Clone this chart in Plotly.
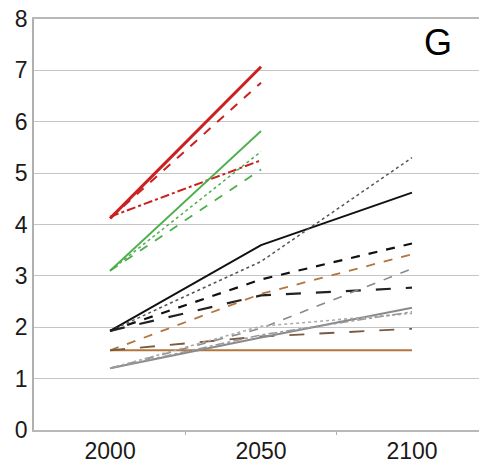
import plotly.graph_objects as go

years = [2000, 2050, 2100]
tick_labels = ["2000", "2050", "2100"]

red_solid = [4.12, 7.07, None]
red_dash = [4.12, 6.76, None]
red_dashdot = [4.15, 5.25, None]
green_solid = [3.10, 5.82, None]
green_dot = [3.10, 5.42, None]
green_dash = [3.10, 5.07, None]
black_solid = [1.93, 3.60, 4.62]
black_dot = [1.93, 3.28, 5.30]
black_dash = [1.93, 2.93, 3.63]
black_longdash = [1.93, 2.62, 2.77]
brown_solid = [1.55, 1.55, 1.55]
brown_dash = [1.55, 2.65, 3.42]
brown_longdash = [1.55, 1.82, 1.97]
gray_solid = [1.20, 1.80, 2.38]
gray_dash = [1.20, 1.98, 3.14]
gray_dot = [1.20, 2.02, 2.27]
gray_dashdot = [1.20, 1.85, 2.30]

RED = "#cc2020"
GREEN = "#4caf4c"
BLACK = "#111111"
BROWN = "#b5743c"
GRAY = "#8a8a8a"

series = [
    (red_solid, RED, "solid", 3),
    (red_dash, RED, "dash", 2),
    (red_dashdot, RED, "dashdot", 2),
    (green_solid, GREEN, "solid", 1.8),
    (green_dot, GREEN, "dot", 1.5),
    (green_dash, GREEN, "dash", 1.8),
    (black_solid, BLACK, "solid", 2),
    (black_dot, "#555555", "dot", 1.5),
    (black_dash, BLACK, "dash", 2.2),
    (black_longdash, "#222222", "longdash", 2.2),
    (brown_solid, BROWN, "solid", 2),
    (brown_dash, BROWN, "dash", 1.8),
    (brown_longdash, "#7a5a40", "longdash", 1.8),
    (gray_solid, GRAY, "solid", 2),
    (gray_dash, GRAY, "dash", 1.6),
    (gray_dot, "#aaaaaa", "dot", 1.6),
    (gray_dashdot, "#999999", "dashdot", 1.5),
]

fig = go.Figure()
for vals, color, dash, width in series:
    fig.add_trace(go.Scatter(
        x=years, y=vals, mode="lines",
        line=dict(color=color, dash=dash, width=width),
        showlegend=False, hoverinfo="skip",
    ))

fig.add_annotation(
    x=2108.5, y=7.55, xref="x", yref="y", text="G", showarrow=False,
    font=dict(family="Liberation Sans, Arial, sans-serif", size=36, color="#000000"),
)

fig.update_layout(
    width=479, height=464,
    margin=dict(l=34, r=0, t=19, b=30),
    paper_bgcolor="white", plot_bgcolor="white",
    font=dict(family="Liberation Sans, Arial, sans-serif", size=23, color="#1a1a1a"),
    xaxis=dict(
        range=[1974.8, 2122.2], tickvals=years, ticktext=tick_labels,
        showgrid=False, zeroline=False, showline=True, mirror=True,
        linecolor="#b8b8b8", linewidth=1.5,
        ticks="", ticklen=0,
        minor=dict(tickvals=[2025, 2075], ticks="outside", ticklen=3, tickcolor="#b0b0b0"),
    ),
    yaxis=dict(
        range=[0, 8], tickvals=[0, 1, 2, 3, 4, 5, 6, 7, 8],
        showgrid=True, gridcolor="#c4c4c4", gridwidth=1.3,
        zeroline=False, showline=True, linecolor="#b0b0b0", linewidth=1.5,
        ticks="", ticklen=0,
    ),
)

fig.write_html("out.html", config={"displayModeBar": False},
               post_script="document.body.style.margin='0px';")
